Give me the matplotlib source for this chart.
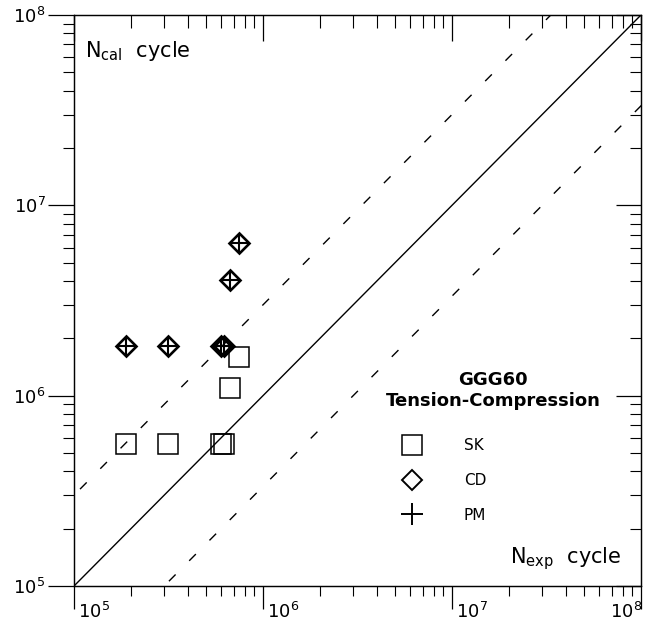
import matplotlib
matplotlib.use("Agg")
import matplotlib.pyplot as plt
import matplotlib.ticker as mticker
from matplotlib.lines import Line2D
from matplotlib.transforms import offset_copy
import numpy as np

# ---------------------------------------
# data (cycles)
# ---------------------------------------
n_exp = [1.88e5, 3.15e5, 6.0e5, 6.2e5, 6.7e5, 7.5e5]
n_sk = [5.55e5, 5.55e5, 5.55e5, 5.55e5, 1.1e6, 1.6e6]
n_cd = [1.82e6, 1.82e6, 1.82e6, 1.82e6, 4.05e6, 6.37e6]
n_pm = [1.82e6, 1.82e6, 1.82e6, 1.82e6, 4.05e6, 6.37e6]

# scatter band: N_cal = k * N_exp
band_factors = [1, 3, 1 / 3]
band_styles = ["-", "--", "--"]

lim = (1e5, 1e8)
major_ticks = [1e5, 1e6, 1e7, 1e8]
tick_labels = [r"$\mathregular{10^{5}}$", r"$\mathregular{10^{6}}$",
               r"$\mathregular{10^{7}}$", r"$\mathregular{10^{8}}$"]

fig = plt.figure(figsize=(6.45, 6.21), dpi=100)
ax = fig.add_axes([74 / 645, 1 - 586 / 621, 567 / 645, 571 / 621])
ax.set_xscale("log")
ax.set_yscale("log")
ax.set_xlim(lim)
ax.set_ylim(lim)

# ---------------------------------------
# 1:1 line and factor-3 band
# ---------------------------------------
xx = np.array([1e4, 1e9])
for k, ls in zip(band_factors, band_styles):
    line, = ax.plot(xx, k * xx, color="black", lw=1.0, ls=ls)
    if ls == "--":
        line.set_dashes((6.8, 13.9))

# ---------------------------------------
# data points
# ---------------------------------------
ax.plot(n_exp, n_sk, ls="none", marker="s", ms=14.4, mfc="none",
        mec="black", mew=1.1)
ax.plot(n_exp, n_cd, ls="none", marker="D", ms=9.7, mfc="none",
        mec="black", mew=1.9)
ax.plot(n_exp, n_pm, ls="none", marker="+", ms=13.5, color="black",
        mew=1.5)

# ---------------------------------------
# ticks: left/bottom outward, top/right inward
# ---------------------------------------
ax.set_xticks(major_ticks)
ax.set_yticks(major_ticks)
ax.set_xticklabels([])
ax.set_yticklabels(tick_labels)
ax.xaxis.set_minor_formatter(mticker.NullFormatter())
ax.yaxis.set_minor_formatter(mticker.NullFormatter())
ax.tick_params(axis="y", which="major", direction="out", length=18.5,
               width=0.9, pad=2, labelsize=13)
ax.tick_params(axis="y", which="minor", direction="out", length=8, width=0.8)
ax.tick_params(axis="x", which="major", direction="out", length=16.5,
               width=0.9)
ax.tick_params(axis="x", which="minor", direction="out", length=7.5,
               width=0.8)

for spine in ax.spines.values():
    spine.set_linewidth(0.9)

top = ax.twiny()
top.set_xscale("log")
top.set_xlim(lim)
top.set_xticks(major_ticks)
top.tick_params(axis="x", which="major", direction="in", length=19,
                width=0.9, labeltop=False)
top.tick_params(axis="x", which="minor", direction="in", length=9,
                width=0.8, labeltop=False)

right = ax.twinx()
right.set_yscale("log")
right.set_ylim(lim)
right.set_yticks(major_ticks)
right.tick_params(axis="y", which="major", direction="in", length=18,
                  width=0.9, labelright=False)
right.tick_params(axis="y", which="minor", direction="in", length=8,
                  width=0.8, labelright=False)

# x tick labels sit beside the tick, not under it
xtrans = ax.get_xaxis_transform()
for val, lab in zip(major_ticks, tick_labels):
    if val == major_ticks[-1]:
        tr = offset_copy(xtrans, fig=fig, x=1, y=-16, units="dots")
        ha = "right"
    else:
        tr = offset_copy(xtrans, fig=fig, x=4, y=-16, units="dots")
        ha = "left"
    ax.text(val, 0, lab, transform=tr, ha=ha, va="top", fontsize=13,
            clip_on=False)

# ---------------------------------------
# axis captions and legend
# ---------------------------------------
ax.text(0.019, 0.926, r"$\mathregular{N_{cal}}$  cycle", transform=ax.transAxes,
        fontsize=15, va="baseline", ha="left")
ax.text(0.966, 0.040, r"$\mathregular{N_{exp}}$  cycle", transform=ax.transAxes,
        fontsize=15, va="baseline", ha="right")

ax.text(0.739, 0.352, "GGG60", transform=ax.transAxes, fontsize=13,
        fontweight="bold", ha="center", va="baseline")
ax.text(0.739, 0.315, "Tension-Compression", transform=ax.transAxes,
        fontsize=13, fontweight="bold", ha="center", va="baseline")

handles = [
    Line2D([], [], ls="none", marker="s", ms=15, mfc="none", mec="black",
           mew=1.1),
    Line2D([], [], ls="none", marker="D", ms=9.7, mfc="none", mec="black",
           mew=1.4),
    Line2D([], [], ls="none", marker="+", ms=16, color="black", mew=1.4),
]
ax.legend(handles, ["SK", "CD", "PM"], loc="upper left",
          bbox_to_anchor=(0.569, 0.259), borderaxespad=0, borderpad=0,
          frameon=False, fontsize=11, handlelength=2, handletextpad=2.4,
          labelspacing=1.3, numpoints=1)

fig.savefig("out.png", dpi=100)
